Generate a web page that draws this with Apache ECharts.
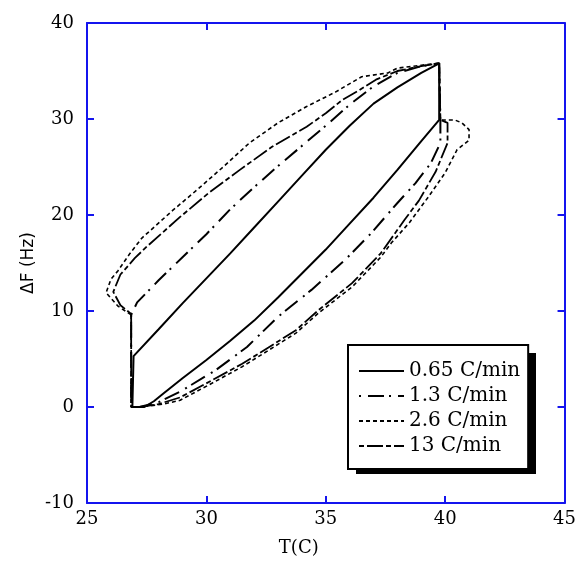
<!DOCTYPE html>
<html>
<head>
<meta charset="utf-8">
<script src="https://cdn.jsdelivr.net/npm/echarts@6/dist/echarts.min.js"></script>
<style>
  html, body { margin: 0; padding: 0; background: #fff; }
  #chart { width: 579px; height: 567px; }
</style>
</head>
<body>
<div id="chart"></div>
<script>
// loop 0.65 C/min (solid)
const t065 = [26.9, 27.4, 27.8, 28.2, 29.0, 30.0, 31.0, 32.0, 33.0, 34.0, 35.0, 36.0, 37.0, 38.0, 39.0, 39.75,
  39.75, 39.0, 38.0, 37.0, 36.0, 35.0, 34.0, 33.0, 32.0, 31.0, 30.0, 29.0, 28.0, 26.95, 26.9];
const f065 = [0, 0, 0.6, 1.4, 3.0, 4.9, 6.9, 9.0, 11.4, 13.9, 16.4, 19.1, 21.8, 24.7, 27.7, 29.9,
  35.8, 34.8, 33.3, 31.6, 29.3, 26.8, 24.1, 21.4, 18.7, 16.0, 13.4, 10.8, 8.1, 5.3, 0];

// loop 1.3 C/min (dash-dot)
const t13a = [26.85, 27.1, 28.0, 29.0, 30.0, 31.0, 32.0, 33.0, 34.0, 35.0, 36.0, 37.0, 38.0, 39.0, 39.75,
  39.8, 39.8, 39.4, 38.75, 38.0, 36.9, 35.8, 34.4, 33.0, 31.7, 30.4, 28.9, 28.0, 27.2, 26.85, 26.85];
const f13a = [9.6, 10.9, 13.2, 15.6, 18.0, 20.6, 22.9, 25.1, 27.2, 29.3, 31.5, 33.4, 34.8, 35.5, 35.8,
  29.9, 27.5, 25.4, 23.3, 21.25, 18.1, 15.3, 12.2, 9.4, 6.25, 3.85, 1.6, 0.5, 0, 0, 9.6];

// loop 2.6 C/min (short dashes)
const t26 = [26.85, 26.3, 25.8, 26.0, 26.3, 26.8, 27.3, 28.6, 29.6, 30.7, 31.8, 33.0, 34.2, 35.4, 36.5, 37.6, 38.0, 39.0, 39.75,
  39.8, 40.4, 40.7, 41.0, 41.0, 40.5, 40.0, 39.3, 38.5, 37.75, 37.3, 36.1, 34.7, 33.75, 32.6, 31.5, 30.25, 28.9, 28.2, 27.2, 26.85, 26.85];
const f26 = [9.6, 10.5, 11.9, 13.3, 14.2, 16.0, 17.6, 20.5, 22.6, 25.0, 27.5, 29.6, 31.3, 32.8, 34.4, 34.8, 35.3, 35.6, 35.8,
  29.9, 29.9, 29.6, 28.9, 27.8, 26.8, 24.4, 21.9, 19.2, 17.1, 15.6, 12.5, 9.8, 7.7, 5.9, 4.2, 2.5, 0.7, 0.3, 0, 0, 9.6];

// loop 13 C/min (long dashes)
const t130 = [26.85, 26.4, 26.1, 26.4, 27.0, 27.5, 28.9, 30.1, 31.4, 32.75, 34.2, 35.0, 35.7, 36.4, 37.1, 38.0, 39.0, 39.75,
  39.8, 40.1, 40.1, 39.6, 38.9, 38.3, 37.3, 36.1, 34.7, 33.75, 32.6, 31.5, 30.25, 28.9, 28.0, 27.2, 26.85, 26.85];
const f130 = [9.7, 10.6, 12.0, 13.8, 15.5, 16.7, 19.8, 22.3, 24.7, 27.1, 29.2, 30.6, 32.0, 33.0, 34.1, 35.0, 35.5, 35.8,
  29.9, 29.6, 27.5, 24.5, 21.5, 19.5, 16.0, 12.9, 10.1, 8.0, 6.2, 4.5, 2.8, 1.0, 0.3, 0, 0, 9.7];

const names = ['0.65 C/min', '1.3 C/min', '2.6 C/min', '13 C/min'];
const xTicks = [25, 45, 5];
const yTicks = [-10, 40, 10];

const zip = (xs, ys) => xs.map((x, i) => [x, ys[i]]);

const blue = '#1414ee';
const font = 'DejaVu Serif';

const chart = echarts.init(document.getElementById('chart'));

const axisBase = {
  type: 'value',
  axisLine: { show: true, onZero: false, lineStyle: { color: blue, width: 2 } },
  axisTick: { show: true, inside: true, length: 7, lineStyle: { color: blue, width: 2 } },
  splitLine: { show: false },
};

const lineSeries = (name, xs, ys, width, type) => ({
  name, type: 'line', symbol: 'none', color: '#000', data: zip(xs, ys),
  lineStyle: { color: '#000', width, type },
});

chart.setOption({
  animation: false,
  grid: { left: 87, right: 12, top: 23, bottom: 64 },
  legend: {
    data: names,
    orient: 'vertical',
    left: 348,
    top: 345,
    z: 5,
    padding: [16, 8, 13, 10],
    itemWidth: 45,
    itemHeight: 14,
    itemGap: 5,
    backgroundColor: '#fff',
    borderColor: '#000',
    borderWidth: 2,
    borderRadius: 0,
    itemStyle: { opacity: 0 },
    textStyle: { fontFamily: font, fontSize: 20, color: '#000', lineHeight: 20 },
  },
  // drop shadow under the legend box
  graphic: [{
    type: 'rect', z: 4, left: 356, top: 353,
    shape: { width: 180, height: 121 },
    style: { fill: '#000' },
  }],
  xAxis: [
    Object.assign({}, axisBase, {
      min: xTicks[0], max: xTicks[1], interval: xTicks[2],
      position: 'bottom',
      axisLabel: { color: '#000', fontFamily: font, fontSize: 18, margin: 7 },
      name: 'T(C)',
      nameLocation: 'middle',
      nameGap: 36,
      nameTextStyle: { color: '#000', fontFamily: font, fontSize: 18, padding: [0, 54, 0, 0] },
    }),
    Object.assign({}, axisBase, {
      min: xTicks[0], max: xTicks[1], interval: xTicks[2],
      position: 'top',
      axisLabel: { show: false },
    }),
  ],
  yAxis: [
    Object.assign({}, axisBase, {
      min: yTicks[0], max: yTicks[1], interval: yTicks[2],
      position: 'left',
      axisLabel: { color: '#000', fontFamily: font, fontSize: 18, margin: 13 },
      name: 'ΔF (Hz)',
      nameLocation: 'middle',
      nameRotate: 90,
      nameGap: 50,
      nameMoveOverlap: false,
      nameTextStyle: { color: '#000', fontFamily: 'DejaVu Sans', fontSize: 17 },
    }),
    Object.assign({}, axisBase, {
      min: yTicks[0], max: yTicks[1], interval: yTicks[2],
      position: 'right',
      axisLabel: { show: false },
    }),
  ],
  series: [
    lineSeries(names[0], t065, f065, 2, 'solid'),
    lineSeries(names[1], t13a, f13a, 2, [2, 7, 16, 5]),
    lineSeries(names[2], t26, f26, 1.6, [4, 3]),
    lineSeries(names[3], t130, f130, 1.8, [5, 3, 16, 3]),
  ],
});
</script>
</body>
</html>
